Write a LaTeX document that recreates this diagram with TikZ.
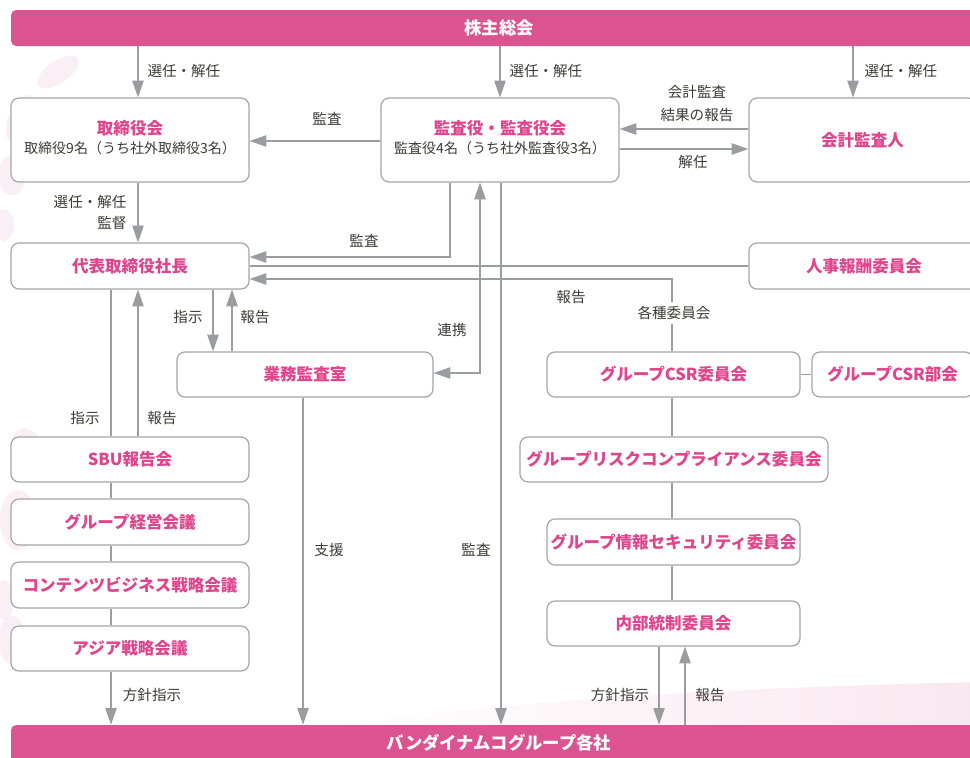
\documentclass[tikz,border=0pt]{standalone}
\usepackage{fontspec}
\setmainfont{Noto Sans CJK JP}
\usetikzlibrary{arrows.meta,fit}

\definecolor{barpink}{HTML}{DC5391}
\definecolor{titlepink}{HTML}{E0448C}
\definecolor{linegray}{HTML}{9B9C9F}
\definecolor{boxgray}{HTML}{A5A5A7}
\definecolor{labelgray}{HTML}{3E3A39}
\definecolor{petal}{HTML}{F6DCE7}
\definecolor{swoosh}{HTML}{F9E7EF}

\tikzset{
  frame/.style={draw=boxgray, line width=0.9pt, fill=white, rounded corners=6pt,
    inner sep=0pt},
  title/.style={text=titlepink, inner sep=0pt, text height=10.2pt, text depth=0.9pt,
    font=\fontsize{12.4}{15}\selectfont\bfseries},
  sub/.style={text=labelgray, inner sep=0pt, text height=8.7pt, text depth=0.8pt,
    font=\fontsize{10.5}{13}\selectfont},
  bar/.style={fill=barpink, rounded corners=4pt, inner sep=0pt},
  bartext/.style={text=white, inner sep=0pt, text height=10.7pt, text depth=0.9pt,
    font=\fontsize{13}{15}\selectfont\bfseries},
  conn/.style={draw=linegray, line width=0.9pt},
  tip/.tip={Triangle[length=12.5pt,width=8.5pt]},
  arr/.style={conn, -tip},
  lbl/.style={font=\fontsize{10.9}{13}\selectfont, text=labelgray, inner sep=1pt,
    text height=9pt, text depth=0.8pt},
}

\begin{document}
\begin{tikzpicture}[x=0.75pt, y=-0.75pt]
\useasboundingbox (0,0) rectangle (970,757);
\fill[white] (0,0) rectangle (970,757);

% soft blossom petals on the left margin
\begin{scope}[fill=petal, opacity=0.45]
  \fill[rotate around={35:(58,72)}] (58,72) ellipse (24 and 11);
  \fill[rotate around={-20:(22,120)}] (22,120) ellipse (14 and 26);
  \fill (12,175) ellipse (14 and 20);
  \fill (4,225) ellipse (10 and 16);
  \fill[rotate around={20:(30,455)}] (30,455) ellipse (16 and 28);
  \fill (18,520) ellipse (18 and 30);
  \fill[rotate around={-30:(40,585)}] (40,585) ellipse (14 and 26);
  \fill (12,640) ellipse (14 and 24);
  \fill (4,600) ellipse (10 and 20);
\end{scope}
% pale sweep above the bottom bar
\shade[left color=white, right color=swoosh]
  (330,726) .. controls (520,700) and (720,688) .. (980,682) -- (980,726) -- cycle;

% bars
\node[bar, fit={(11,10) (987,46)}] (gm) {};
\node[bartext] (gmlabel) at (499,28) {株主総会};
\node[bar, fit={(11,725) (987,775)}] (grp) {};
\node[bartext] (grplabel) at (499,743) {バンダイナムコグループ各社};

% boxes
\node[frame, fit={(11,98) (249,182)}] (tori) {};
\node[title] (toriT) at (130,128) {取締役会};
\node[sub] (toriS) at (130,148) {取締役9名（うち社外取締役3名）};
\node[frame, fit={(381,98) (619,182)}] (kansa) {};
\node[title] (kansaT) at (500,128) {監査役・監査役会};
\node[sub] (kansaS) at (500,148) {監査役4名（うち社外監査役3名）};
\node[frame, fit={(749,98) (976,182)}] (kaikei) {};
\node[title] (kaikeiT) at (kaikei) {会計監査人};
\node[frame, fit={(11,243) (249,289)}] (daihyo) {};
\node[title] (daihyoT) at (daihyo) {代表取締役社長};
\node[frame, fit={(749,243) (979,289)}] (jinji) {};
\node[title] (jinjiT) at (jinji) {人事報酬委員会};
\node[frame, fit={(177,352) (433,397)}] (gyomu) {};
\node[title] (gyomuT) at (gyomu) {業務監査室};
\node[frame, fit={(547,352) (800,397)}] (csr) {};
\node[title] (csrT) at (csr) {グループCSR委員会};
\node[frame, fit={(812,352) (973,397)}] (csrbu) {};
\node[title] (csrbuT) at (csrbu) {グループCSR部会};
\node[frame, fit={(520,437) (828,482)}] (risk) {};
\node[title] (riskT) at (risk) {グループリスクコンプライアンス委員会};
\node[frame, fit={(547,519) (800,565)}] (info) {};
\node[title] (infoT) at (info) {グループ情報セキュリティ委員会};
\node[frame, fit={(547,601) (800,646)}] (naibu) {};
\node[title] (naibuT) at (naibu) {内部統制委員会};
\node[frame, fit={(11,437) (249,482)}] (sbu) {};
\node[title] (sbuT) at (sbu) {SBU報告会};
\node[frame, fit={(11,499) (249,545)}] (keiei) {};
\node[title] (keieiT) at (keiei) {グループ経営会議};
\node[frame, fit={(11,562) (249,608)}] (content) {};
\node[title] (contentT) at (content) {コンテンツビジネス戦略会議};
\node[frame, fit={(11,626) (249,671)}] (asia) {};
\node[title] (asiaT) at (asia) {アジア戦略会議};

% shareholders' meeting
\draw[arr] (138,0 |- gm.south) -- (138,0 |- tori.north);
\node[lbl, anchor=west] (l1) at (146,71) {選任・解任};
\draw[arr] (500,0 |- gm.south) -- (500,0 |- kansa.north);
\node[lbl, anchor=west] (l2) at (508,71) {選任・解任};
\draw[arr] (853,0 |- gm.south) -- (853,0 |- kaikei.north);
\node[lbl, anchor=west] (l3) at (863,71) {選任・解任};

% audit relations at the top row
\draw[arr] (kansa.west |- 0,141) -- (tori.east |- 0,141);
\node[lbl] (l4) at (327,119) {監査};
\draw[arr] (kaikei.west |- 0,129) -- (kansa.east |- 0,129);
\node[lbl] (l5) at (697,92) {会計監査};
\node[lbl] (l6) at (697,115) {結果の報告};
\draw[arr] (kansa.east |- 0,149) -- (kaikei.west |- 0,149);
\node[lbl] (l7) at (693,162) {解任};

% board to president
\draw[arr] (138,0 |- tori.south) -- (138,0 |- daihyo.north);
\node[lbl, anchor=east] (l8) at (128,202) {選任・解任};
\node[lbl, anchor=east] (l9) at (128,223) {監督};

\draw[arr] (450,0 |- kansa.south) |- (daihyo.east |- 0,257);
\node[lbl] (l10) at (364,241) {監査};
\draw[conn] (jinji.west) -- (daihyo.east |- jinji.west);
\draw[arr] (672,0 |- csr.north) |- (daihyo.east |- 0,279);
\node[lbl] (l11) at (571,297) {報告};
\node[lbl, fill=white, inner sep=3pt] (l12) at (674,313) {各種委員会};

% cooperation with internal audit office
\draw[conn, tip-tip] (480,0 |- kansa.south) |- (gyomu.east |- 0,373);
\node[lbl] (l13) at (452,330) {連携};
\draw[arr] (213,0 |- daihyo.south) -- (213,0 |- gyomu.north);
\node[lbl] (l14) at (188,317) {指示};
\draw[arr] (232,0 |- gyomu.north) -- (232,0 |- daihyo.south);
\node[lbl] (l15) at (255,317) {報告};

% president and SBU chain
\draw[conn] (111,0 |- daihyo.south) -- (111,0 |- sbu.north);
\node[lbl] (l16) at (85,418) {指示};
\draw[arr] (138,0 |- sbu.north) -- (138,0 |- daihyo.south);
\node[lbl] (l17) at (162,418) {報告};
\draw[conn] (111,0 |- sbu.south) -- (111,0 |- keiei.north);
\draw[conn] (111,0 |- keiei.south) -- (111,0 |- content.north);
\draw[conn] (111,0 |- content.south) -- (111,0 |- asia.north);
\draw[arr] (111,0 |- asia.south) -- (111,0 |- grp.north);
\node[lbl] (l18) at (152,695) {方針指示};

% support and audit toward group companies
\draw[arr] (303,0 |- gyomu.south) -- (303,0 |- grp.north);
\node[lbl] (l19) at (329,550) {支援};
\draw[arr] (501,0 |- kansa.south) -- (501,0 |- grp.north);
\node[lbl] (l20) at (476,550) {監査};

% committees
\draw[conn] (csr.east) -- (csrbu.west);
\draw[conn] (672,0 |- csr.south) -- (672,0 |- risk.north);
\draw[conn] (672,0 |- risk.south) -- (672,0 |- info.north);
\draw[conn] (672,0 |- info.south) -- (672,0 |- naibu.north);
\draw[arr] (659,0 |- naibu.south) -- (659,0 |- grp.north);
\node[lbl] (l21) at (620,695) {方針指示};
\draw[arr] (685,0 |- grp.north) -- (685,0 |- naibu.south);
\node[lbl] (l22) at (710,695) {報告};
\end{tikzpicture}
\end{document}
